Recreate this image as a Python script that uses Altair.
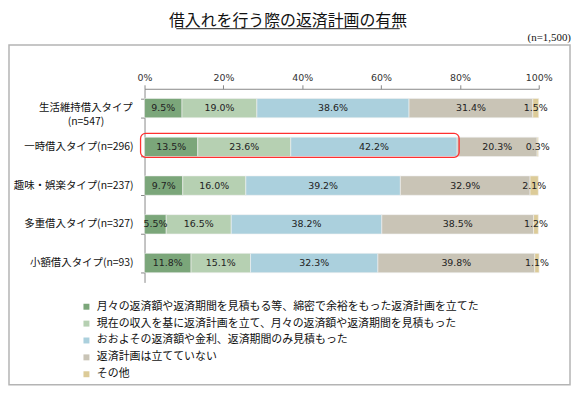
import altair as alt
import pandas as pd

categories = ["生活維持借入タイプ(n=547)", "一時借入タイプ(n=296)", "趣味・娯楽タイプ(n=237)",
              "多重借入タイプ(n=327)", "小額借入タイプ(n=93)"]
first_label_lines = ["生活維持借入タイプ", "(n=547)"]
series = [
    "月々の返済額や返済期間を見積もる等、綿密で余裕をもった返済計画を立てた",
    "現在の収入を基に返済計画を立て、月々の返済額や返済期間を見積もった",
    "おおよその返済額や金利、返済期間のみ見積もった",
    "返済計画は立てていない",
    "その他",
]
colors = ["#7ba67a", "#b6d0b2", "#abd0dd", "#c9c4b6", "#dccb98"]
v1 = [9.5, 13.5, 9.7, 5.5, 11.8]
v2 = [19.0, 23.6, 16.0, 16.5, 15.1]
v3 = [38.6, 42.2, 39.2, 38.2, 32.3]
v4 = [31.4, 20.3, 32.9, 38.5, 39.8]
v5 = [1.5, 0.3, 2.1, 1.2, 1.1]
tick_values = [0, 0.2, 0.4, 0.6, 0.8, 1.0]
title_text = "借入れを行う際の返済計画の有無"
n_text = "(n=1,500)"
highlight_cat = "一時借入タイプ(n=296)"
highlight_segments = 3

values = [v1, v2, v3, v4, v5]
rows = []
for ci, cat in enumerate(categories):
    start = 0.0
    for si, s in enumerate(series):
        v = values[si][ci] / 100.0
        rows.append({"cat": cat, "series": s, "order": si, "start": start,
                     "end": start + v, "mid": start + v / 2,
                     "label": f"{values[si][ci]:.1f}%"})
        start += v
seg = pd.DataFrame(rows)

hi_idx = categories.index(highlight_cat)
hi_end = sum(values[k][hi_idx] for k in range(highlight_segments)) / 100.0
hi_df = pd.DataFrame({"cat": [highlight_cat], "start": [0.0], "end": [hi_end]})

lab_df = pd.DataFrame({"cat": categories[1:], "label": categories[1:]})
first_df = pd.DataFrame({"cat": categories[:1]})
one = pd.DataFrame({"a": [0]})

JP = "Noto Sans CJK JP"

yscale = alt.Scale(domain=categories, paddingInner=0.5, paddingOuter=0.25)
xscale = alt.Scale(domain=[0, 1], nice=False)

frame = alt.Chart(one).mark_rect(fillOpacity=0, stroke="#b4b4b4", strokeWidth=1.5).encode(
    x=alt.value(-136.5), x2=alt.value(428.5), y=alt.value(-44), y2=alt.value(298))

bars = alt.Chart(seg).mark_bar(stroke="#f2f2f2", strokeWidth=0.6).encode(
    x=alt.X("start:Q", scale=xscale,
            axis=alt.Axis(orient="top", values=tick_values, format=".0%", title=None,
                          labelFontSize=9.5, labelFont="DejaVu Sans", labelColor="#333",
                          tickSize=4, tickColor="#888", domainColor="#888",
                          labelPadding=2, labelFlush=False, grid=False)),
    x2="end:Q",
    y=alt.Y("cat:N", sort=categories, scale=yscale,
            axis=alt.Axis(labels=False, title=None, tickBand="extent", tickSize=4,
                          tickColor="#888", domainColor="#888", grid=False)),
    color=alt.Color("series:N", sort=series, scale=alt.Scale(domain=series, range=colors),
                    legend=alt.Legend(orient="none", legendX=-64, legendY=214, direction="vertical",
                                      title=None, symbolType="square", symbolSize=36,
                                      symbolStrokeWidth=0, labelFont=JP, labelFontSize=11,
                                      labelColor="#111", labelLimit=700, labelOffset=5,
                                      rowPadding=5)),
    order=alt.Order("order:Q"),
)

seg_text = alt.Chart(seg).mark_text(fontSize=9.5, font="DejaVu Sans", color="#222").encode(
    x=alt.X("mid:Q", scale=xscale), y=alt.Y("cat:N", sort=categories, scale=yscale),
    text="label:N")

hi = alt.Chart(hi_df).mark_bar(fillOpacity=0, stroke="#ff3030", strokeWidth=1.3, cornerRadius=5,
                               size=24, xOffset=-4, x2Offset=2, yOffset=-1.5).encode(
    x=alt.X("start:Q", scale=xscale), x2="end:Q",
    y=alt.Y("cat:N", sort=categories, scale=yscale))

ylabels = alt.Chart(lab_df).mark_text(align="right", baseline="middle", fontSize=10.5,
                                      font=JP, color="#111").encode(
    x=alt.value(-11), y=alt.Y("cat:N", sort=categories, scale=yscale), text="label:N")

yfirst = alt.Chart(first_df).mark_text(align="center", baseline="middle", fontSize=10.5, font=JP,
                                       color="#111", lineHeight=14, text=first_label_lines).encode(
    x=alt.value(-59), y=alt.Y("cat:N", sort=categories, scale=yscale))

title = alt.Chart(one).mark_text(text=title_text, fontSize=16, font=JP, color="#111",
                                 baseline="middle").encode(x=alt.value(144.5), y=alt.value(-68.5))
underline = alt.Chart(one).mark_rule(color="#222", strokeWidth=1).encode(
    x=alt.value(32), x2=alt.value(257), y=alt.value(-60.5))
ntext = alt.Chart(one).mark_text(text=n_text, align="right", baseline="middle", fontSize=11,
                                 font="Liberation Serif", color="#111").encode(
    x=alt.value(429.5), y=alt.value(-51))

chart = alt.layer(frame, bars, seg_text, hi, ylabels, yfirst, title, underline, ntext).properties(
    width=397, height=195,
    autosize=alt.AutoSizeParams(type="none"),
    padding={"left": 137.5, "top": 80, "right": 33.5, "bottom": 104},
).configure_view(stroke=None)

chart.save("out.html", embed_options={"renderer": "svg", "actions": False})
